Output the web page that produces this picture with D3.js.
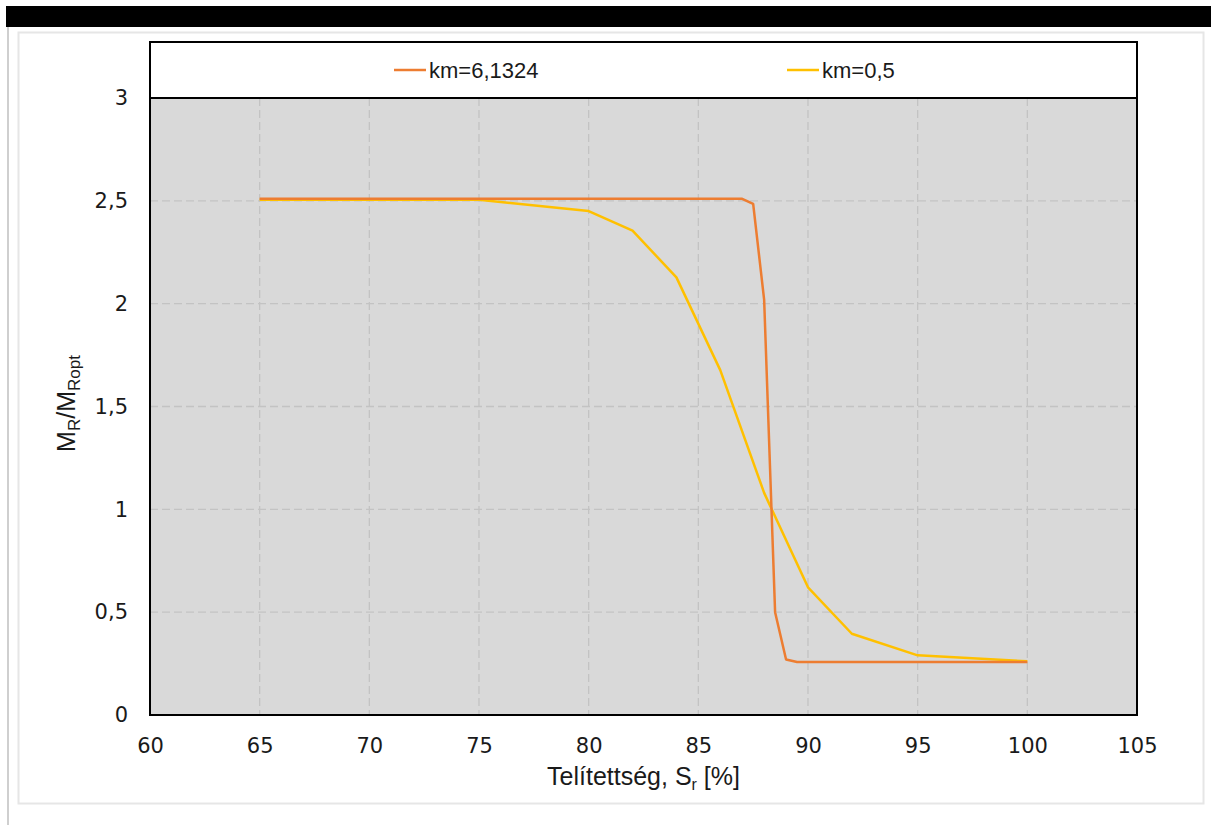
<!DOCTYPE html>
<html>
<head>
<meta charset="utf-8">
<script src="https://cdn.jsdelivr.net/npm/d3@7"></script>
<style>
  body { margin: 0; background: #fff; }
  svg { display: block; }
</style>
</head>
<body>
<svg id="chart"></svg>
<script>
// saturation values (x) and modulus ratio (y)
var xOrange = [65, 70, 75, 80, 85, 87, 87.5, 88, 88.5, 89, 89.5, 90, 95, 100];
var yOrange = [2.51, 2.51, 2.51, 2.51, 2.51, 2.51, 2.485, 2.02, 0.50, 0.27, 0.258, 0.258, 0.258, 0.258];
var xYellow = [65, 70, 75, 80, 82, 84, 86, 88, 90, 92, 95, 100];
var yYellow = [2.505, 2.505, 2.505, 2.45, 2.355, 2.128, 1.677, 1.08, 0.621, 0.395, 0.29, 0.261];
var seriesNames = ["km=6,1324", "km=0,5"];
var xTicks = [60, 65, 70, 75, 80, 85, 90, 95, 100, 105];
var yTicks = [0, 0.5, 1, 1.5, 2, 2.5, 3];

var W = 1211, H = 825;
var plotLeft = 150, plotRight = 1137, plotTop = 98, plotBottom = 715, boxTop = 42;
var colors = ["#ED7D31", "#FFC000"];

var svg = d3.select("#chart").attr("width", W).attr("height", H);

// page decoration
svg.append("rect").attr("x", 6).attr("y", 6).attr("width", W - 6).attr("height", 21).attr("fill", "#000");
svg.append("rect").attr("x", 7).attr("y", 27).attr("width", 2).attr("height", H - 27).attr("fill", "#cfcfcf");
svg.append("rect").attr("x", 18.5).attr("y", 32.5).attr("width", 1185).attr("height", 771)
    .attr("fill", "none").attr("stroke", "#e6e6e6").attr("stroke-width", 2);

var x = d3.scaleLinear().domain([60, 105]).range([plotLeft, plotRight]);
var y = d3.scaleLinear().domain([0, 3]).range([plotBottom, plotTop]);

// plot background and legend box
svg.append("rect").attr("x", plotLeft).attr("y", boxTop).attr("width", plotRight - plotLeft)
    .attr("height", plotTop - boxTop).attr("fill", "#fff");
svg.append("rect").attr("x", plotLeft).attr("y", plotTop).attr("width", plotRight - plotLeft)
    .attr("height", plotBottom - plotTop).attr("fill", "#d9d9d9");

// grid
var grid = svg.append("g");
grid.selectAll("line.v")
    .data(xTicks.filter(function(d){ return d > 60 && d < 105; }))
    .enter().append("line").attr("class", "v")
    .attr("x1", function(d){ return x(d); }).attr("x2", function(d){ return x(d); })
    .attr("y1", plotTop).attr("y2", plotBottom)
    .attr("stroke", "#c3c3c3").attr("stroke-width", 1.3).attr("stroke-dasharray", "8,4");
grid.selectAll("line.h")
    .data(yTicks.filter(function(d){ return d > 0 && d < 3; }))
    .enter().append("line").attr("class", "h")
    .attr("y1", function(d){ return y(d); }).attr("y2", function(d){ return y(d); })
    .attr("x1", plotLeft).attr("x2", plotRight)
    .attr("stroke", "#c3c3c3").attr("stroke-width", 1.3).attr("stroke-dasharray", "8,4");

// axes (labels only, no tick marks)
var xAxis = svg.append("g").attr("transform", "translate(0," + plotBottom + ")")
    .call(d3.axisBottom(x).tickValues(xTicks).tickSize(0).tickPadding(23).tickFormat(d3.format("d")));
var yAxis = svg.append("g").attr("transform", "translate(" + plotLeft + ",0)")
    .call(d3.axisLeft(y).tickValues(yTicks).tickSize(0).tickPadding(22)
        .tickFormat(function(d){ return String(d).replace(".", ","); }));
[xAxis, yAxis].forEach(function(a){
    a.select(".domain").remove();
    a.selectAll("text").attr("font-family", "DejaVu Sans, sans-serif").attr("font-size", 21).attr("fill", "#1a1a1a");
});

// lines
var line = d3.line().x(function(d){ return x(d[0]); }).y(function(d){ return y(d[1]); });
var dataOrange = xOrange.map(function(v, i){ return [v, yOrange[i]]; });
var dataYellow = xYellow.map(function(v, i){ return [v, yYellow[i]]; });
svg.append("path").datum(dataYellow).attr("d", line)
    .attr("fill", "none").attr("stroke", colors[1]).attr("stroke-width", 2.5).attr("stroke-linejoin", "round");
svg.append("path").datum(dataOrange).attr("d", line)
    .attr("fill", "none").attr("stroke", colors[0]).attr("stroke-width", 2.5).attr("stroke-linejoin", "round");

// frame
svg.append("rect").attr("x", plotLeft).attr("y", boxTop).attr("width", plotRight - plotLeft)
    .attr("height", plotBottom - boxTop)
    .attr("fill", "none").attr("stroke", "#000").attr("stroke-width", 2);
svg.append("line").attr("x1", plotLeft).attr("x2", plotRight).attr("y1", plotTop).attr("y2", plotTop)
    .attr("stroke", "#000").attr("stroke-width", 2);

// legend
var legendX = [394, 787];
seriesNames.forEach(function(name, i){
    svg.append("line").attr("x1", legendX[i]).attr("x2", legendX[i] + 32).attr("y1", 70).attr("y2", 70)
        .attr("stroke", colors[i]).attr("stroke-width", 2.5);
    svg.append("text").attr("x", legendX[i] + 35).attr("y", 78).text(name)
        .attr("font-family", "Liberation Sans, Arial, sans-serif").attr("font-size", 22).attr("fill", "#1a1a1a");
});

// axis titles
var xt = svg.append("text").attr("x", (plotLeft + plotRight) / 2).attr("y", 785).attr("text-anchor", "middle")
    .attr("font-family", "Liberation Sans, Arial, sans-serif").attr("font-size", 25).attr("fill", "#1a1a1a");
xt.append("tspan").text("Telítettség, S");
xt.append("tspan").text("r").attr("font-size", 16).attr("dy", 5);
xt.append("tspan").text(" [%]").attr("dy", -5);

var yt = svg.append("text").attr("transform", "translate(75," + ((plotTop + plotBottom) / 2 - 3) + ") rotate(-90)")
    .attr("text-anchor", "middle")
    .attr("font-family", "Liberation Sans, Arial, sans-serif").attr("font-size", 25).attr("fill", "#1a1a1a");
yt.append("tspan").text("M");
yt.append("tspan").text("R").attr("font-size", 17).attr("dy", 5);
yt.append("tspan").text("/M").attr("dy", -5);
yt.append("tspan").text("Ropt").attr("font-size", 17).attr("dy", 5);
</script>
</body>
</html>
